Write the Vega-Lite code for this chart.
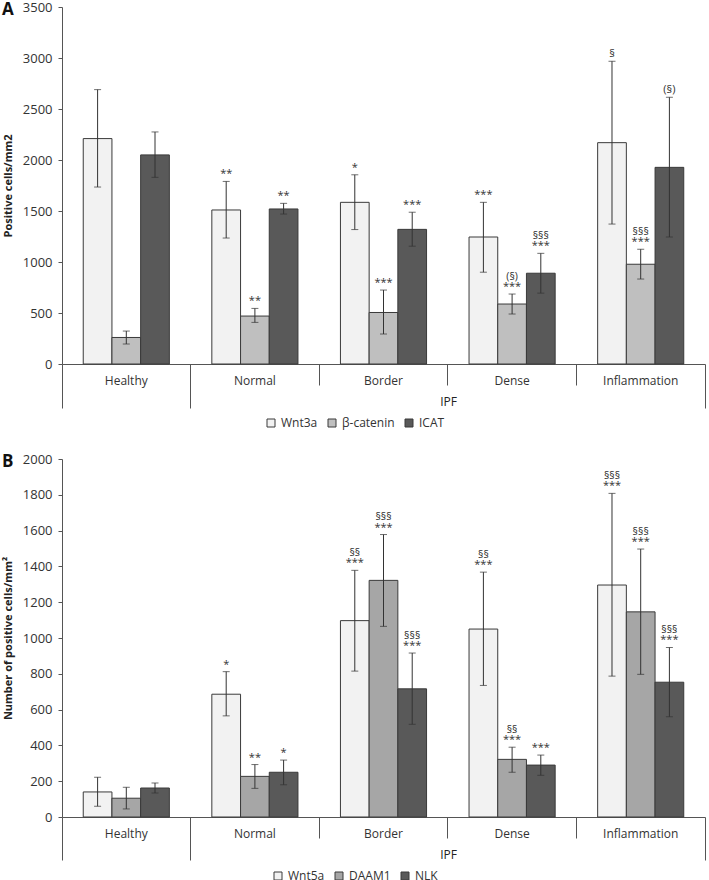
{
  "$schema": "https://vega.github.io/schema/vega-lite/v6.json",
  "autosize": {"type": "pad"},
  "padding": {"left": 2, "top": 1, "right": 0, "bottom": 0},
  "background": "white",
  "config": {
    "font": "Open Sans",
    "view": {"stroke": null},
    "axis": {"labelColor": "#333333", "domainColor": "#555555", "tickColor": "#555555", "grid": false, "labelFontSize": 12, "titleColor": "#222222"},
    "axisY": {"labelOverlap": false, "labelFontSize": 13, "tickSize": 4, "labelPadding": 6, "titleFontSize": 11, "titleFontWeight": "bold", "titlePadding": 9, "format": "d"},
    "legend": {"labelColor": "#333333"}
  },
  "datasets": {
    "a": [
      {"group": "Healthy", "series": "Wnt3a", "value": 2210, "lo": 1735, "hi": 2690, "sig": "", "sec": ""},
      {"group": "Healthy", "series": "β-catenin", "value": 260, "lo": 196, "hi": 323, "sig": "", "sec": ""},
      {"group": "Healthy", "series": "ICAT", "value": 2050, "lo": 1830, "hi": 2275, "sig": "", "sec": ""},
      {"group": "Normal", "series": "Wnt3a", "value": 1510, "lo": 1235, "hi": 1790, "sig": "**", "sec": ""},
      {"group": "Normal", "series": "β-catenin", "value": 470, "lo": 408, "hi": 545, "sig": "**", "sec": ""},
      {"group": "Normal", "series": "ICAT", "value": 1520, "lo": 1470, "hi": 1575, "sig": "**", "sec": ""},
      {"group": "Border", "series": "Wnt3a", "value": 1585, "lo": 1318, "hi": 1855, "sig": "*", "sec": ""},
      {"group": "Border", "series": "β-catenin", "value": 505, "lo": 294, "hi": 725, "sig": "***", "sec": ""},
      {"group": "Border", "series": "ICAT", "value": 1320, "lo": 1155, "hi": 1488, "sig": "***", "sec": ""},
      {"group": "Dense", "series": "Wnt3a", "value": 1245, "lo": 900, "hi": 1585, "sig": "***", "sec": ""},
      {"group": "Dense", "series": "β-catenin", "value": 588, "lo": 490, "hi": 686, "sig": "***", "sec": "(§)"},
      {"group": "Dense", "series": "ICAT", "value": 890, "lo": 695, "hi": 1085, "sig": "***", "sec": "§§§"},
      {"group": "Inflammation", "series": "Wnt3a", "value": 2170, "lo": 1372, "hi": 2968, "sig": "§", "sec": ""},
      {"group": "Inflammation", "series": "β-catenin", "value": 978, "lo": 833, "hi": 1125, "sig": "***", "sec": "§§§"},
      {"group": "Inflammation", "series": "ICAT", "value": 1928, "lo": 1245, "hi": 2615, "sig": "(§)", "sec": ""}
    ],
    "b": [
      {"group": "Healthy", "series": "Wnt5a", "value": 140, "lo": 60, "hi": 222, "sig": "", "sec": ""},
      {"group": "Healthy", "series": "DAAM1", "value": 105, "lo": 45, "hi": 166, "sig": "", "sec": ""},
      {"group": "Healthy", "series": "NLK", "value": 162, "lo": 134, "hi": 190, "sig": "", "sec": ""},
      {"group": "Normal", "series": "Wnt5a", "value": 686, "lo": 565, "hi": 812, "sig": "*", "sec": ""},
      {"group": "Normal", "series": "DAAM1", "value": 227, "lo": 160, "hi": 293, "sig": "**", "sec": ""},
      {"group": "Normal", "series": "NLK", "value": 250, "lo": 180, "hi": 318, "sig": "*", "sec": ""},
      {"group": "Border", "series": "Wnt5a", "value": 1097, "lo": 815, "hi": 1378, "sig": "***", "sec": "§§"},
      {"group": "Border", "series": "DAAM1", "value": 1322, "lo": 1065, "hi": 1578, "sig": "***", "sec": "§§§"},
      {"group": "Border", "series": "NLK", "value": 716, "lo": 518, "hi": 916, "sig": "***", "sec": "§§§"},
      {"group": "Dense", "series": "Wnt5a", "value": 1050, "lo": 735, "hi": 1368, "sig": "***", "sec": "§§"},
      {"group": "Dense", "series": "DAAM1", "value": 322, "lo": 250, "hi": 390, "sig": "***", "sec": "§§"},
      {"group": "Dense", "series": "NLK", "value": 290, "lo": 233, "hi": 346, "sig": "***", "sec": ""},
      {"group": "Inflammation", "series": "Wnt5a", "value": 1296, "lo": 787, "hi": 1808, "sig": "***", "sec": "§§§"},
      {"group": "Inflammation", "series": "DAAM1", "value": 1146, "lo": 797, "hi": 1497, "sig": "***", "sec": "§§§"},
      {"group": "Inflammation", "series": "NLK", "value": 753, "lo": 560, "hi": 947, "sig": "***", "sec": "§§§"}
    ]
  },
  "spacing": 95,
  "bounds": "flush",
  "resolve": {"scale": {"color": "independent", "x": "independent", "y": "independent", "xOffset": "independent"}, "legend": {"color": "independent"}},
  "vconcat": [
    {
      "width": 643,
      "height": 357,
      "title": {"text": "A", "anchor": "start", "frame": "group", "orient": "top", "offset": 0, "dx": -60, "dy": 26, "baseline": "middle", "fontSize": 17, "fontWeight": "bold", "color": "#111111"},
      "data": {"name": "a"},
      "encoding": {
        "x": {"field": "group", "type": "nominal", "sort": ["Healthy", "Normal", "Border", "Dense", "Inflammation"],
          "scale": {"paddingInner": 0, "paddingOuter": 0},
          "axis": {"title": "IPF", "titleX": 386, "titleY": 37, "titleBaseline": "middle", "titleFontWeight": "normal", "titleFontSize": 12,
            "labelAngle": 0, "labelBaseline": "middle", "bandPosition": 1, "tickExtra": true,
            "tickSize": {"condition": {"test": "datum.extra || datum.value === 'Healthy' || datum.value === 'Inflammation'", "value": 44}, "value": 21},
            "labelPadding": {"condition": {"test": "datum.extra || datum.value === 'Healthy' || datum.value === 'Inflammation'", "value": -28}, "value": -5}}},
        "xOffset": {"field": "series", "type": "nominal", "sort": ["Wnt3a", "β-catenin", "ICAT"], "scale": {"paddingInner": 0, "paddingOuter": 0.74}}
      },
      "layer": [
        {
          "mark": {"type": "bar", "stroke": "#3a3a3a", "strokeWidth": 1},
          "encoding": {
            "y": {"field": "value", "type": "quantitative", "scale": {"domain": [0, 3500], "nice": false},
              "axis": {"title": "Positive cells/mm2", "values": [0, 500, 1000, 1500, 2000, 2500, 3000, 3500]}},
            "color": {"field": "series", "type": "nominal", "sort": ["Wnt3a", "β-catenin", "ICAT"],
              "scale": {"domain": ["Wnt3a", "β-catenin", "ICAT"], "range": ["#f2f2f2", "#bfbfbf", "#595959"]},
              "legend": {"title": null, "orient": "none", "direction": "horizontal", "legendX": 203, "legendY": 410, "symbolType": "square", "symbolSize": 64, "symbolStrokeColor": "#3a3a3a", "symbolStrokeWidth": 1, "labelFontSize": 12, "columnPadding": 8, "labelOffset": 4}}
          }
        },
        {
          "mark": {"type": "rule", "color": "#333333", "strokeWidth": 1},
          "encoding": {"y": {"field": "lo", "type": "quantitative", "axis": {"title": "Positive cells/mm2", "values": [0, 500, 1000, 1500, 2000, 2500, 3000, 3500]}}, "y2": {"field": "hi"}}
        },
        {
          "mark": {"type": "tick", "color": "#333333", "thickness": 1, "size": 7},
          "encoding": {"y": {"field": "lo", "type": "quantitative", "axis": {"title": "Positive cells/mm2", "values": [0, 500, 1000, 1500, 2000, 2500, 3000, 3500]}}}
        },
        {
          "mark": {"type": "tick", "color": "#333333", "thickness": 1, "size": 7},
          "encoding": {"y": {"field": "hi", "type": "quantitative", "axis": {"title": "Positive cells/mm2", "values": [0, 500, 1000, 1500, 2000, 2500, 3000, 3500]}}}
        },
        {
          "mark": {"type": "text", "baseline": "bottom", "dy": -2, "fontSize": 11, "color": "#333333"},
          "encoding": {"y": {"field": "hi", "type": "quantitative", "axis": {"title": "Positive cells/mm2", "values": [0, 500, 1000, 1500, 2000, 2500, 3000, 3500]}}, "text": {"field": "sig"}}
        },
        {
          "mark": {"type": "text", "baseline": "bottom", "dy": -12.5, "fontSize": 10.5, "color": "#333333"},
          "encoding": {"y": {"field": "hi", "type": "quantitative", "axis": {"title": "Positive cells/mm2", "values": [0, 500, 1000, 1500, 2000, 2500, 3000, 3500]}}, "text": {"field": "sec"}}
        }
      ]
    },
    {
      "width": 643,
      "height": 358,
      "title": {"text": "B", "anchor": "start", "frame": "group", "orient": "top", "offset": 0, "dx": -60, "dy": 26, "baseline": "middle", "fontSize": 17, "fontWeight": "bold", "color": "#111111"},
      "data": {"name": "b"},
      "encoding": {
        "x": {"field": "group", "type": "nominal", "sort": ["Healthy", "Normal", "Border", "Dense", "Inflammation"],
          "scale": {"paddingInner": 0, "paddingOuter": 0},
          "axis": {"title": "IPF", "titleX": 386, "titleY": 37, "titleBaseline": "middle", "titleFontWeight": "normal", "titleFontSize": 12,
            "labelAngle": 0, "labelBaseline": "middle", "bandPosition": 1, "tickExtra": true,
            "tickSize": {"condition": {"test": "datum.extra || datum.value === 'Healthy' || datum.value === 'Inflammation'", "value": 43}, "value": 21},
            "labelPadding": {"condition": {"test": "datum.extra || datum.value === 'Healthy' || datum.value === 'Inflammation'", "value": -27}, "value": -5}}},
        "xOffset": {"field": "series", "type": "nominal", "sort": ["Wnt5a", "DAAM1", "NLK"], "scale": {"paddingInner": 0, "paddingOuter": 0.74}}
      },
      "layer": [
        {
          "mark": {"type": "bar", "stroke": "#3a3a3a", "strokeWidth": 1},
          "encoding": {
            "y": {"field": "value", "type": "quantitative", "scale": {"domain": [0, 2000], "nice": false},
              "axis": {"title": "Number of positive cells/mm²", "values": [0, 200, 400, 600, 800, 1000, 1200, 1400, 1600, 1800, 2000]}},
            "color": {"field": "series", "type": "nominal", "sort": ["Wnt5a", "DAAM1", "NLK"],
              "scale": {"domain": ["Wnt5a", "DAAM1", "NLK"], "range": ["#f2f2f2", "#a6a6a6", "#595959"]},
              "legend": {"title": null, "orient": "none", "direction": "horizontal", "legendX": 210, "legendY": 411, "symbolType": "square", "symbolSize": 64, "symbolStrokeColor": "#3a3a3a", "symbolStrokeWidth": 1, "labelFontSize": 12, "columnPadding": 8, "labelOffset": 4}}
          }
        },
        {
          "mark": {"type": "rule", "color": "#333333", "strokeWidth": 1},
          "encoding": {"y": {"field": "lo", "type": "quantitative", "axis": {"title": "Number of positive cells/mm²", "values": [0, 200, 400, 600, 800, 1000, 1200, 1400, 1600, 1800, 2000]}}, "y2": {"field": "hi"}}
        },
        {
          "mark": {"type": "tick", "color": "#333333", "thickness": 1, "size": 7},
          "encoding": {"y": {"field": "lo", "type": "quantitative", "axis": {"title": "Number of positive cells/mm²", "values": [0, 200, 400, 600, 800, 1000, 1200, 1400, 1600, 1800, 2000]}}}
        },
        {
          "mark": {"type": "tick", "color": "#333333", "thickness": 1, "size": 7},
          "encoding": {"y": {"field": "hi", "type": "quantitative", "axis": {"title": "Number of positive cells/mm²", "values": [0, 200, 400, 600, 800, 1000, 1200, 1400, 1600, 1800, 2000]}}}
        },
        {
          "mark": {"type": "text", "baseline": "bottom", "dy": -2, "fontSize": 11, "color": "#333333"},
          "encoding": {"y": {"field": "hi", "type": "quantitative", "axis": {"title": "Number of positive cells/mm²", "values": [0, 200, 400, 600, 800, 1000, 1200, 1400, 1600, 1800, 2000]}}, "text": {"field": "sig"}}
        },
        {
          "mark": {"type": "text", "baseline": "bottom", "dy": -12.5, "fontSize": 10.5, "color": "#333333"},
          "encoding": {"y": {"field": "hi", "type": "quantitative", "axis": {"title": "Number of positive cells/mm²", "values": [0, 200, 400, 600, 800, 1000, 1200, 1400, 1600, 1800, 2000]}}, "text": {"field": "sec"}}
        }
      ]
    }
  ]
}
